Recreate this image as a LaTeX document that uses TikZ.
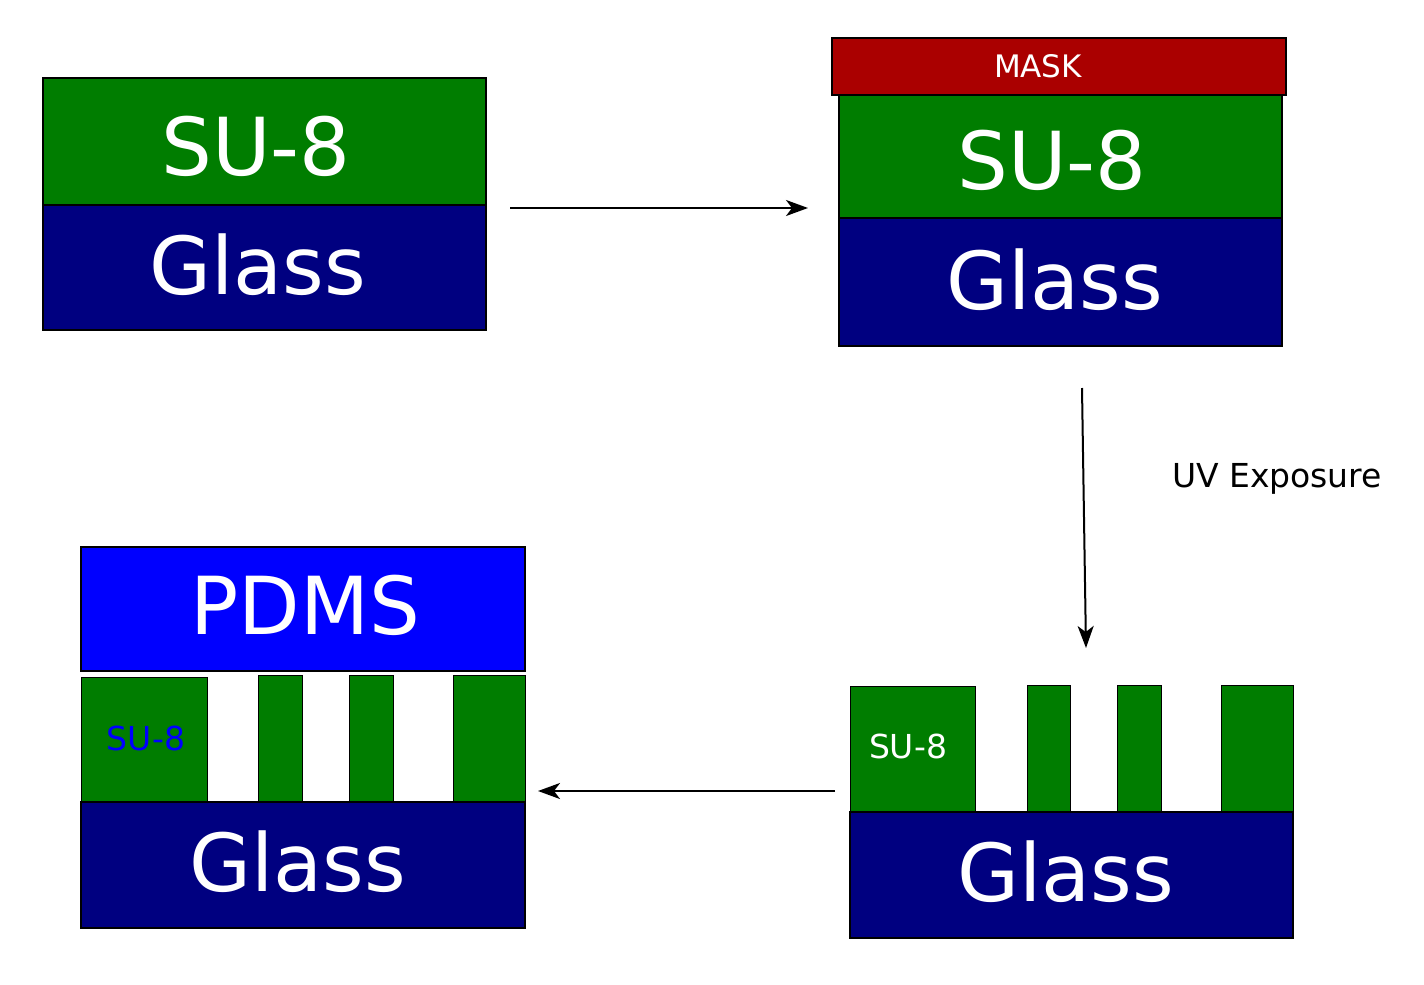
\documentclass[tikz,border=0pt]{standalone}
\usepackage{fontspec}
\setmainfont{DejaVu Sans}
\usetikzlibrary{arrows.meta}
\definecolor{sugreen}{HTML}{007D00}
\definecolor{glassblue}{HTML}{000080}
\definecolor{maskred}{HTML}{AA0000}
\definecolor{pdms}{HTML}{0000FF}
\begin{document}
\begin{tikzpicture}[x=1pt,y=-1pt,
  layer/.style={draw=black,line width=2pt},
  pillar/.style={draw=black,line width=0.6pt,fill=sugreen},
  big/.style={text=white,font=\fontsize{80}{80}\selectfont},
  arr/.style={line width=2pt,-{Stealth[length=22pt,width=16pt,inset=6pt]}}]
\useasboundingbox (0,0) rectangle (1424,985);
% step 1
\draw[layer,fill=sugreen] (43,78) rectangle (486,205);
\draw[layer,fill=glassblue] (43,205) rectangle (486,330);
\node[big] (s1) at (256,146) {SU-8};
\node[big] (g1) at (258,265) {Glass};
% step 2
\draw[layer,fill=sugreen] (839,95) rectangle (1282,218);
\draw[layer,fill=glassblue] (839,218) rectangle (1282,346);
\draw[layer,fill=maskred] (832,38) rectangle (1286,95);
\node[text=white,font=\fontsize{31}{31}\selectfont] (m2) at (1038,66) {MASK};
\node[big] (s2) at (1052,160) {SU-8};
\node[big] (g2) at (1055,280) {Glass};
% step 3
\draw[pillar] (850,686) rectangle (975,812);
\draw[pillar] (1027,685) rectangle (1070,812);
\draw[pillar] (1117,685) rectangle (1161,812);
\draw[pillar] (1221,685) rectangle (1293,812);
\draw[layer,fill=glassblue] (850,812) rectangle (1293,938);
\node[text=white,font=\fontsize{33}{33}\selectfont] (s3) at (908,746) {SU-8};
\node[big] (g3) at (1066,872) {Glass};
% step 4
\draw[layer,fill=pdms] (81,547) rectangle (525,671);
\draw[pillar] (81,677) rectangle (207,802);
\draw[pillar] (258,675) rectangle (302,802);
\draw[pillar] (349,675) rectangle (393,802);
\draw[pillar] (453,675) rectangle (525,802);
\draw[layer,fill=glassblue] (81,802) rectangle (525,928);
\node[big] (p4) at (305,605) {PDMS};
\node[text=pdms,font=\fontsize{33}{33}\selectfont] (s4) at (146,738) {SU-8};
\node[big] (g4) at (298,862) {Glass};
% arrows
\coordinate (a1s) at (510,208); \coordinate (a1e) at (808,208);
\coordinate (a2s) at (1082,388); \coordinate (a2e) at (1086,648);
\coordinate (a3s) at (835,791); \coordinate (a3e) at (538,791);
\draw[arr] (a1s) -- (a1e);
\draw[arr] (a2s) -- (a2e);
\draw[arr] (a3s) -- (a3e);
\node[font=\fontsize{33}{33}\selectfont] (uv) at (1277,479) {UV Exposure};
\end{tikzpicture}
\end{document}
